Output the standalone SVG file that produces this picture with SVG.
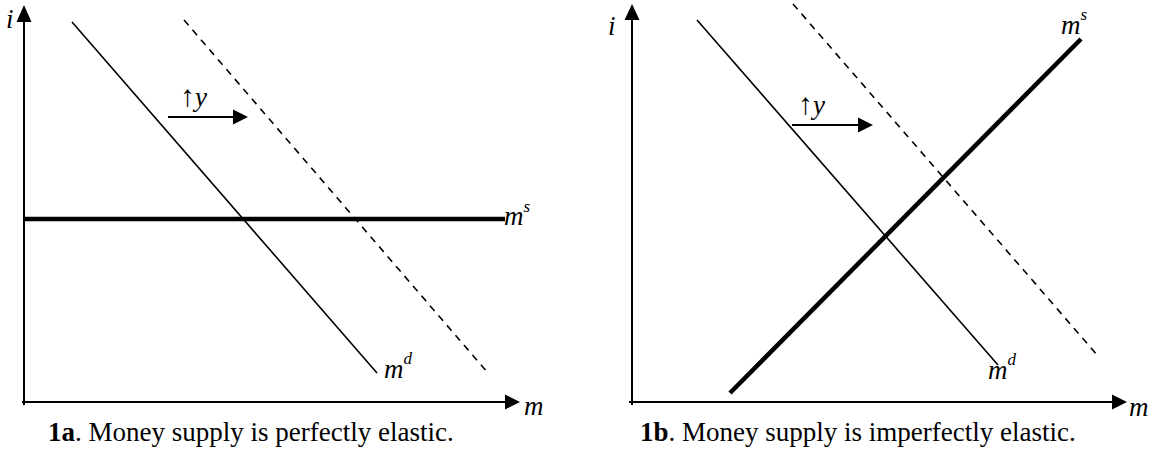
<svg xmlns="http://www.w3.org/2000/svg" width="1154" height="463" viewBox="0 0 1154 463">
  <style>
    .axis { stroke: #000; stroke-width: 2; fill: none; }
    .curve { stroke: #000; stroke-width: 1.6; fill: none; }
    .dash { stroke: #000; stroke-width: 1.6; fill: none; stroke-dasharray: 7 6; }
    .thick { stroke: #000; stroke-width: 4.5; fill: none; }
    .head { fill: #000; stroke: none; }
    text { font-family: "Liberation Serif", "DejaVu Serif", serif; fill: #000; }
    .lbl { font-style: italic; font-size: 27px; }
    .sup { font-size: 17px; }
    .up { font-style: normal; font-size: 30px; }
    .cap { font-size: 27px; }
    .b { font-weight: bold; }
  </style>
  <rect width="1154" height="463" fill="#fff"/>

  <g id="panel-1a">
    <g id="axes-1a">
      <line class="axis" x1="24" y1="405" x2="24" y2="20"/>
      <polygon class="head" points="24,5 16.5,22 31.5,22"/>
      <line class="axis" x1="22" y1="402" x2="507" y2="402"/>
      <polygon class="head" points="520,402 505,394.5 505,409.5"/>
      <text class="lbl" x="6" y="28">i</text>
      <text class="lbl" x="524" y="415">m</text>
    </g>
    <g id="ms-1a">
      <line class="thick" x1="24" y1="219" x2="505" y2="219"/>
      <text class="lbl" x="504" y="225">m<tspan class="sup" dy="-13">s</tspan></text>
    </g>
    <g id="md-1a">
      <line class="curve" x1="72" y1="22" x2="377" y2="373"/>
      <text class="lbl" x="384" y="378">m<tspan class="sup" dy="-14">d</tspan></text>
    </g>
    <g id="md2-1a">
      <line class="dash" x1="184" y1="20" x2="488" y2="373"/>
    </g>
    <g id="shift-1a">
      <line class="axis" x1="168" y1="117" x2="235" y2="117"/>
      <polygon class="head" points="248,117 233,109.5 233,124.5"/>
      <text class="lbl" x="180" y="106"><tspan class="up">↑</tspan>y</text>
    </g>
    <text id="caption-1a" class="cap" x="48" y="441"><tspan class="b">1a</tspan>. Money supply is perfectly elastic.</text>
  </g>

  <g id="panel-1b">
    <g id="axes-1b">
      <line class="axis" x1="632" y1="405" x2="632" y2="18"/>
      <polygon class="head" points="632,4 624.5,20 639.5,20"/>
      <line class="axis" x1="629" y1="402" x2="1114" y2="402"/>
      <polygon class="head" points="1127,402 1112,394.5 1112,409.5"/>
      <text class="lbl" x="608" y="35">i</text>
      <text class="lbl" x="1129" y="416">m</text>
    </g>
    <g id="ms-1b">
      <line class="thick" x1="730" y1="393" x2="1081" y2="39"/>
      <text class="lbl" x="1061" y="34">m<tspan class="sup" dy="-14">s</tspan></text>
    </g>
    <g id="md-1b">
      <line class="curve" x1="697" y1="20" x2="998" y2="365"/>
      <text class="lbl" x="988" y="379">m<tspan class="sup" dy="-14">d</tspan></text>
    </g>
    <g id="md2-1b">
      <line class="dash" x1="793" y1="4" x2="1098" y2="356"/>
    </g>
    <g id="shift-1b">
      <line class="axis" x1="792" y1="125" x2="860" y2="125"/>
      <polygon class="head" points="873,125 858,117.5 858,132.5"/>
      <text class="lbl" x="798" y="114"><tspan class="up">↑</tspan>y</text>
    </g>
    <text id="caption-1b" class="cap" x="640" y="441"><tspan class="b">1b</tspan>. Money supply is imperfectly elastic.</text>
  </g>
</svg>
